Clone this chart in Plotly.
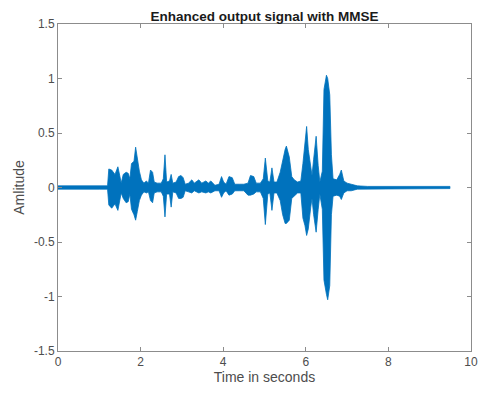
import plotly.graph_objects as go

# Envelope of the enhanced signal (time in seconds, upper and lower amplitude)
time_s = [0.00, 0.50, 1.00, 1.20, 1.23, 1.30, 1.38, 1.45, 1.50, 1.53, 1.58, 1.65, 1.70, 1.74,
          1.78, 1.84, 1.88, 1.92, 1.97, 2.02, 2.08, 2.14, 2.19, 2.24, 2.29, 2.33, 2.40, 2.50,
          2.55, 2.59, 2.63, 2.70, 2.74, 2.78, 2.86, 2.92, 2.98, 3.03, 3.08, 3.16, 3.24, 3.30,
          3.41, 3.48, 3.58, 3.64, 3.70, 3.80, 3.90, 3.96, 4.01, 4.07, 4.14, 4.22, 4.28, 4.40,
          4.50, 4.60, 4.66, 4.74, 4.80, 4.90, 4.97, 5.02, 5.08, 5.13, 5.18, 5.23, 5.30, 5.38,
          5.44, 5.50, 5.53, 5.60, 5.66, 5.72, 5.80, 5.88, 5.93, 5.98, 6.02, 6.06, 6.12, 6.15,
          6.19, 6.25, 6.30, 6.34, 6.40, 6.44, 6.50, 6.53, 6.58, 6.62, 6.66, 6.75, 6.82, 6.86,
          6.92, 7.00, 7.10, 7.25, 7.50, 8.00, 8.50, 9.00, 9.49]
upper = [0.015, 0.015, 0.015, 0.015, 0.17, 0.16, 0.12, 0.19, 0.10, 0.04, 0.12, 0.14, 0.13, 0.08,
         0.22, 0.24, 0.37, 0.25, 0.15, 0.07, 0.04, 0.06, 0.04, 0.16, 0.14, 0.05, 0.04, 0.04,
         0.08, 0.30, 0.05, 0.06, 0.12, 0.04, 0.05, 0.10, 0.11, 0.09, 0.03, 0.04, 0.07, 0.04,
         0.07, 0.04, 0.06, 0.04, 0.06, 0.02, 0.03, 0.10, 0.05, 0.03, 0.10, 0.09, 0.03, 0.03,
         0.03, 0.04, 0.11, 0.10, 0.04, 0.04, 0.08, 0.27, 0.06, 0.05, 0.18, 0.05, 0.05, 0.14,
         0.25, 0.35, 0.38, 0.28, 0.10, 0.07, 0.05, 0.06, 0.22, 0.42, 0.56, 0.35, 0.15, 0.11,
         0.26, 0.47, 0.20, 0.05, 0.15, 0.90, 1.03, 1.00, 0.85, 0.30, 0.08, 0.07, 0.12, 0.16,
         0.06, 0.04, 0.03, 0.015, 0.01, 0.01, 0.01, 0.01, 0.01]
lower = [-0.015, -0.015, -0.015, -0.015, -0.16, -0.19, -0.15, -0.21, -0.12, -0.05, -0.10, -0.14, -0.13, -0.06,
         -0.20, -0.25, -0.30, -0.22, -0.12, -0.07, -0.04, -0.05, -0.04, -0.12, -0.14, -0.05, -0.04, -0.04,
         -0.08, -0.27, -0.06, -0.06, -0.18, -0.04, -0.05, -0.10, -0.10, -0.09, -0.03, -0.04, -0.05, -0.03,
         -0.05, -0.04, -0.05, -0.04, -0.05, -0.03, -0.03, -0.09, -0.05, -0.03, -0.07, -0.06, -0.03, -0.03,
         -0.03, -0.07, -0.07, -0.06, -0.04, -0.04, -0.10, -0.34, -0.06, -0.05, -0.21, -0.05, -0.05, -0.12,
         -0.25, -0.33, -0.33, -0.30, -0.10, -0.08, -0.05, -0.05, -0.28, -0.35, -0.44, -0.38, -0.18, -0.10,
         -0.25, -0.41, -0.20, -0.06, -0.20, -0.85, -0.98, -1.03, -0.90, -0.25, -0.08, -0.07, -0.08, -0.11,
         -0.05, -0.03, -0.03, -0.015, -0.01, -0.01, -0.01, -0.01, -0.01]

x_ticks = [0, 2, 4, 6, 8, 10]
y_ticks = [-1.5, -1, -0.5, 0, 0.5, 1, 1.5]
y_tick_text = ["-1.5", "-1", "-0.5", "0", "0.5", "1", "1.5"]

blue = "#0072BD"
poly_x = time_s + time_s[::-1]
poly_y = upper + lower[::-1]

fig = go.Figure()
fig.add_trace(go.Scatter(x=poly_x, y=poly_y, mode="lines", fill="toself",
                         fillcolor=blue, line=dict(color=blue, width=0.8),
                         hoverinfo="skip", showlegend=False))

font_family = "Liberation Sans, Arial"
axis_common = dict(showline=True, linecolor="#8c8c8c", linewidth=1, mirror="ticks",
                   ticks="inside", ticklen=4, tickcolor="#8c8c8c", showgrid=False,
                   zeroline=False, automargin=False,
                   tickfont=dict(family=font_family, size=12, color="#4d4d4d"))

fig.update_layout(
    width=481, height=394,
    margin=dict(l=58, r=10, t=24, b=43),
    paper_bgcolor="white", plot_bgcolor="white",
    title=dict(text="<b>Enhanced output signal with MMSE</b>", x=0.5, xanchor="center",
               xref="paper", y=1, yref="paper", yanchor="bottom", pad=dict(b=3),
               font=dict(family=font_family, size=13.5, color="#1a1a1a"), automargin=False),
    xaxis=dict(range=[0, 10], tickvals=x_ticks, title=dict(text="Time in seconds", standoff=3,
               font=dict(family=font_family, size=14, color="#4d4d4d")), **axis_common),
    yaxis=dict(range=[-1.5, 1.5], tickvals=y_ticks, ticktext=y_tick_text,
               title=dict(text="Amlitude", standoff=6,
               font=dict(family=font_family, size=14, color="#4d4d4d")), **axis_common),
)

fig.write_html("out.html")
